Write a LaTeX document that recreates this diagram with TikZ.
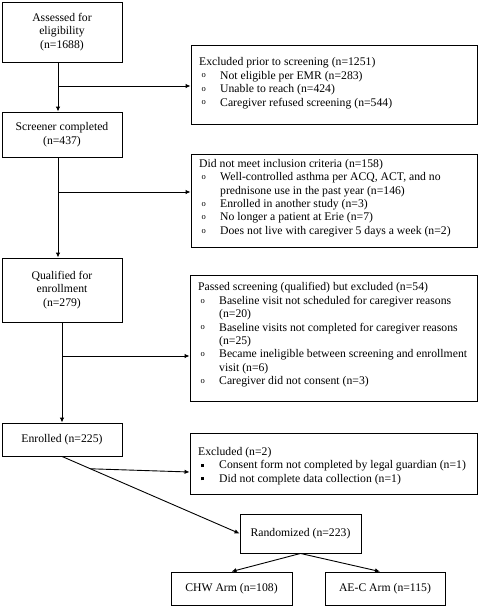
\documentclass[tikz,border=0pt]{standalone}
\usepackage{fontspec}
\setmainfont{Liberation Serif}
\usetikzlibrary{arrows.meta,calc}
\newcommand\bul{\makebox[21pt][l]{\hspace{2.5pt}\raisebox{1.3pt}{\fontsize{8.5}{8.5}\selectfont o}}}
\newcommand\sqb{\makebox[21pt][l]{\hspace{3pt}\rule[1.8pt]{3.2pt}{3.2pt}}}
\newcommand\ind{\hspace*{21pt}}
\begin{document}
\begin{tikzpicture}[x=1pt,y=-1pt,
  box/.style={draw,line width=0.9pt,inner sep=0pt},
  lbl/.style={font=\fontsize{11.7}{13.4}\selectfont,align=center},
  txt/.style={font=\fontsize{11.7}{13.4}\selectfont,align=left,anchor=north west,inner sep=0pt},
  arr/.style={line width=0.9pt,-{Latex[length=5pt,width=4.5pt]}},
  ln/.style={line width=0.9pt}]
\useasboundingbox (0,0) rectangle (482,606);

% left column
\node[box,lbl,minimum width=120pt,minimum height=60pt] (a) at (62,32) {Assessed for\\eligibility\\(n=1688)};
\node[box,lbl,minimum width=120pt,minimum height=45pt] (s) at (62,134.5) {Screener completed\\(n=437)};
\node[box,lbl,minimum width=120pt,minimum height=64pt] (q) at (62,290) {Qualified for\\enrollment\\(n=279)};
\node[box,lbl,minimum width=120pt,minimum height=33pt] (en) at (62,439.5) {Enrolled (n=225)};

% right column boxes
\node[box,minimum width=286pt,minimum height=79pt] (e1) at (334,84.5) {};
\node[box,minimum width=286pt,minimum height=93pt] (e2) at (334,200.5) {};
\node[box,minimum width=287pt,minimum height=126pt] (e3) at (333.5,338) {};
\node[box,minimum width=287pt,minimum height=61pt] (e4) at (333.5,463.5) {};

\node[txt] (e1t) at (199,57.5) {Excluded prior to screening (n=1251)\\
\bul Not eligible per EMR (n=283)\\
\bul Unable to reach (n=424)\\
\bul Caregiver refused screening (n=544)};

\node[txt] (e2t) at (199,159) {Did not meet inclusion criteria (n=158)\\
\bul Well-controlled asthma per ACQ, ACT, and no\\
\ind prednisone use in the past year (n=146)\\
\bul Enrolled in another study (n=3)\\
\bul No longer a patient at Erie (n=7)\\
\bul Does not live with caregiver 5 days a week (n=2)};

\node[txt] (e3t) at (198,282.5) {Passed screening (qualified) but excluded (n=54)\\
\bul Baseline visit not scheduled for caregiver reasons\\
\ind (n=20)\\
\bul Baseline visits not completed for caregiver reasons\\
\ind (n=25)\\
\bul Became ineligible between screening and enrollment\\
\ind visit (n=6)\\
\bul Caregiver did not consent (n=3)};

\node[txt] (e4t) at (198,447) {Excluded (n=2)\\
\sqb Consent form not completed by legal guardian (n=1)\\
\sqb Did not complete data collection (n=1)};

% bottom boxes
\node[box,lbl,minimum width=121pt,minimum height=39pt] (r) at (300.5,533.5) {Randomized (n=223)};
\node[box,lbl,minimum width=121pt,minimum height=33pt] (chw) at (231.5,588.5) {CHW Arm (n=108)};
\node[box,lbl,minimum width=120pt,minimum height=33pt] (ae) at (385,588.5) {AE-C Arm (n=115)};

% connectors
\coordinate (x1) at ([xshift=-4pt]a.south);
\coordinate (b1) at ([yshift=-1.5pt]e1.west);
\draw[arr] (x1) -- (x1 |- s.north);
\draw[arr] (x1 |- b1) -- (b1);

\coordinate (x2) at ([xshift=-4pt]s.south);
\coordinate (b2) at ([yshift=8.5pt]e2.west);
\draw[arr] (x2) -- (x2 |- q.north);
\draw[arr] (x2 |- b2) -- (b2);

\coordinate (b3) at ([yshift=-18pt]e3.west);
\draw[arr] (q.south) -- (en.north);
\draw[arr] (q.south |- b3) -- (b3);

\coordinate (d) at ($(en.south)!0.16!(r.west)$);
\coordinate (b4) at ([yshift=-8.5pt]e4.west);
\draw[arr] (en.south) -- (r.west);
\draw[arr] (d) -- (b4);

\draw[arr] (r.south) -- (chw.north);
\draw[arr] (r.south) -- ([xshift=-5pt]ae.north);
\end{tikzpicture}
\end{document}
